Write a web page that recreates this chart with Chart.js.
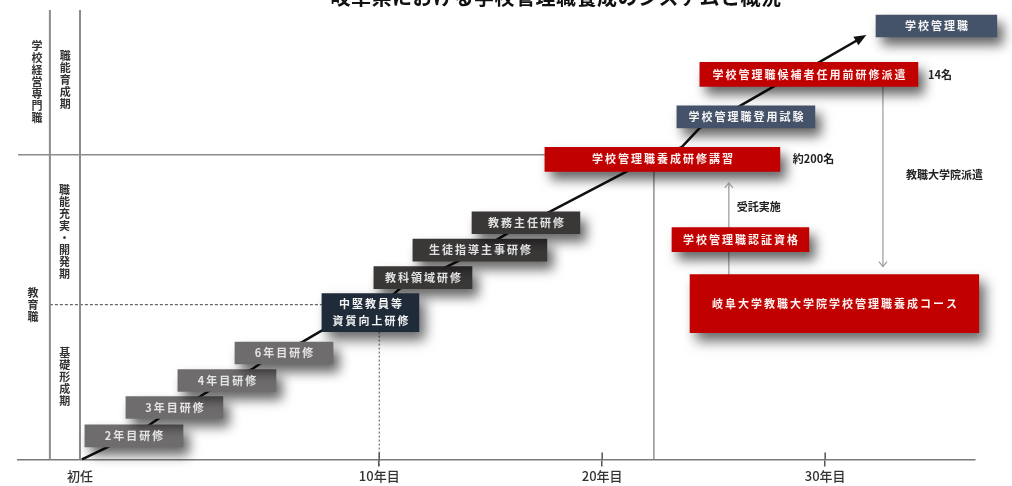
<!DOCTYPE html>
<html><head><meta charset="utf-8">
<script src="https://cdn.jsdelivr.net/npm/chart.js@4"></script>
<style>html,body{margin:0;padding:0;background:#fff}#wrap{width:1012px;height:486px;position:relative}</style>
</head><body><div id="wrap"><canvas id="c"></canvas></div>
<script>
// ---------- data ----------
const titleText = '岐阜県における学校管理職養成のシステムと概況';
const xTickValues = [-3.42, 10, 20, 30];
const xTickLabels = ['初任', '10年目', '20年目', '30年目'];

const basicLabels = ['2年目研修', '3年目研修', '4年目研修', '6年目研修'];
const basicStart = [-3.20, -1.36, 0.97, 3.53];
const basicEnd = [1.20, 2.99, 5.37, 7.93];
const basicLevel = [2.35, 5.2, 7.9, 10.65];

const midLabels = ['中堅教員等\n資質向上研修'];
const midStart = [7.43];
const midEnd = [11.78];
const midLevel = [14.7];

const roleLabels = ['教科領域研修', '生徒指導主事研修', '教務主任研修'];
const roleStart = [9.76, 11.51, 14.16];
const roleEnd = [14.16, 17.52, 19.00];
const roleLevel = [18.2, 20.95, 23.7];

const redLabels = ['学校管理職養成研修講習', '学校管理職候補者任用前研修派遣', '学校管理職認証資格'];
const redStart = [17.43, 24.38, 23.13];
const redEnd = [27.97, 34.16, 29.27];
const redLevel = [30.05, 38.55, 22.0];

const navyLabels = ['学校管理職登用試験', '学校管理職'];
const navyStart = [23.35, 32.28];
const navyEnd = [29.54, 37.70];
const navyLevel = [34.3, 43.4];

const courseLabels = ['岐阜大学教職大学院学校管理職養成コース'];
const courseStart = [23.94];
const courseEnd = [36.89];
const courseLevel = [15.6];

const pathX = [-3.33, -2.21, -0.41, 0.17, 1.96, 2.32, 4.34, 4.74, 6.58, 7.34, 10.62, 10.93, 13.04, 13.49, 15.28, 15.73, 17.66, 21.15, 23.58, 24.38, 26.18, 27.66, 29.76, 31.69];
const pathY = [0, 1.2, 3.3, 4.2, 6.3, 6.8, 9.1, 9.7, 11.8, 12.8, 16.5, 17.1, 19.3, 19.8, 22.0, 22.6, 24.8, 28.9, 31.3, 33.2, 35.4, 37.3, 39.8, 42.3];

const frameX = [-4.77, -3.42];
const frameTop = 45;
const periodLineY = 30.5;
const periodLineX = [-6.2, 17.43];
const tierLineY = 15.5;
const tierLineX = [-4.77, 7.43];
const tenYearX = 10;
const tenYearTop = 12.8;
const examLineX = 22.32;
const examLineTop = 28.9;
const upArrowX = 25.68;
const upArrowY = [18.5, 27.7];
const downArrowX = 32.59;
const downArrowY = [37.3, 19.3];

const phaseTexts = ['学校経営専門職', '教育職'];
const phaseX = [-5.35, -5.53];
const phaseY = [37.8, 15.5];
const stageTexts = ['職能育成期', '職能充実・開発期', '基礎形成期'];
const stageX = [-4.08, -4.12, -4.1];
const stageY = [38.0, 22.8, 8.3];

const noteTexts = ['約200名', '14名', '受託実施', '教職大学院派遣'];
const noteX = [28.55, 34.61, 26.04, 33.62];
const noteY = [30.1, 38.5, 25.3, 28.5];

// ---------- helpers ----------
const FONT = '"Noto Sans CJK JP", "Noto Sans", sans-serif';
const boxes = (s, e, l) => s.map((v, i) => ({ x: [v, e[i]], y: l[i] }));
const barSet = (labels, s, e, l, color, textColor, thick) => ({
  type: 'bar', indexAxis: 'y', grouped: false, data: boxes(s, e, l),
  boxLabels: labels, textColor: textColor, backgroundColor: color,
  borderWidth: 0, barThickness: thick, clip: false, order: 0
});
const lineSet = (pts, color, width, dash, extra) => Object.assign({
  type: 'line', data: pts, borderColor: color, borderWidth: width, borderDash: dash || [],
  pointRadius: 0, tension: 0, clip: false, order: 10, fill: false
}, extra || {});

const datasets = [
  lineSet(pathX.map((x, i) => ({ x: x, y: pathY[i] })), '#111', 2.5, null, { arrow: 'solid', order: 5 }),
  lineSet([{ x: frameX[0], y: 0 }, { x: frameX[0], y: frameTop }], '#8c8c8c', 2),
  lineSet([{ x: frameX[1], y: 0 }, { x: frameX[1], y: frameTop }], '#8c8c8c', 2),
  lineSet([{ x: periodLineX[0], y: periodLineY }, { x: periodLineX[1], y: periodLineY }], '#8c8c8c', 1.5),
  lineSet([{ x: tierLineX[0], y: tierLineY }, { x: tierLineX[1], y: tierLineY }], '#666', 1.2, [3, 2]),
  lineSet([{ x: tenYearX, y: tenYearTop }, { x: tenYearX, y: -0.8 }], '#555', 1, [2, 2]),
  lineSet([{ x: examLineX, y: examLineTop }, { x: examLineX, y: 0 }], '#777', 1.2),
  lineSet([{ x: upArrowX, y: upArrowY[0] }, { x: upArrowX, y: upArrowY[1] }], '#9a9a9a', 1.2, null, { arrow: 'open' }),
  lineSet([{ x: downArrowX, y: downArrowY[0] }, { x: downArrowX, y: downArrowY[1] }], '#9a9a9a', 1.2, null, { arrow: 'open' }),
  barSet(basicLabels, basicStart, basicEnd, basicLevel, '#6f6c6d', '#e4e4e4', 22),
  barSet(midLabels, midStart, midEnd, midLevel, '#1f2b39', '#f2f2f2', 38),
  barSet(roleLabels, roleStart, roleEnd, roleLevel, '#3a3737', '#e2e2e2', 22),
  barSet(redLabels, redStart, redEnd, redLevel, '#c10000', '#fff0f0', 24),
  barSet(navyLabels, navyStart, navyEnd, navyLevel, '#45536a', '#f4f4f4', 22),
  barSet(courseLabels, courseStart, courseEnd, courseLevel, '#c10000', '#fff0f0', 58)
];

// ---------- plugins ----------
const shadowPlugin = {
  id: 'boxShadow',
  beforeDatasetDraw(chart, args) {
    const ds = chart.data.datasets[args.index];
    if (ds.type !== 'bar') return;
    const ctx = chart.ctx;
    ctx.save();
    ctx.shadowColor = 'rgba(0,0,0,0.6)';
    ctx.shadowBlur = 12;
    ctx.shadowOffsetX = 6;
    ctx.shadowOffsetY = 8;
  },
  afterDatasetDraw(chart, args) {
    const ds = chart.data.datasets[args.index];
    if (ds.type !== 'bar') return;
    chart.ctx.restore();
  }
};

const decorPlugin = {
  id: 'decor',
  afterDatasetsDraw(chart) {
    const ctx = chart.ctx;
    const xs = chart.scales.x, ys = chart.scales.y;
    chart.data.datasets.forEach((ds, i) => {
      const meta = chart.getDatasetMeta(i);
      if (ds.type === 'bar' && ds.boxLabels) {
        meta.data.forEach((el, j) => {
          const p = el.getProps(['x', 'y', 'base'], true);
          const cx = (p.x + p.base) / 2;
          const lines = ds.boxLabels[j].split('\n');
          ctx.save();
          ctx.font = 'bold 11px ' + FONT;
          ctx.fillStyle = ds.textColor;
          ctx.textAlign = 'center';
          ctx.textBaseline = 'middle';
          ctx.letterSpacing = '2px';
          lines.forEach((t, k) => ctx.fillText(t, cx + 1, p.y + (k - (lines.length - 1) / 2) * 17));
          ctx.restore();
        });
      }
      if (ds.arrow) {
        const pts = meta.data;
        const a = pts[pts.length - 2], b = pts[pts.length - 1];
        const ang = Math.atan2(b.y - a.y, b.x - a.x);
        ctx.save();
        ctx.translate(b.x, b.y);
        ctx.rotate(ang);
        if (ds.arrow === 'solid') {
          ctx.fillStyle = ds.borderColor;
          ctx.beginPath();
          ctx.moveTo(4, 0); ctx.lineTo(-8, -5); ctx.lineTo(-8, 5); ctx.closePath();
          ctx.fill();
        } else {
          ctx.strokeStyle = ds.borderColor;
          ctx.lineWidth = 1.2;
          ctx.beginPath();
          ctx.moveTo(-5, -4); ctx.lineTo(0, 0); ctx.lineTo(-5, 4);
          ctx.stroke();
        }
        ctx.restore();
      }
    });
    ctx.save();
    ctx.strokeStyle = '#555';
    ctx.lineWidth = 1.5;
    xTickValues.forEach(v => {
      if (v < 0) return;
      const px = xs.getPixelForValue(v);
      ctx.beginPath();
      ctx.moveTo(px, xs.top - 7);
      ctx.lineTo(px, xs.top);
      ctx.stroke();
    });
    ctx.restore();
    ctx.save();
    ctx.font = 'bold 11px ' + FONT;
    ctx.fillStyle = '#333';
    ctx.textAlign = 'center';
    ctx.textBaseline = 'middle';
    const vtext = (txt, x, y) => {
      const chars = Array.from(txt);
      const step = 12;
      const px = xs.getPixelForValue(x), py = ys.getPixelForValue(y);
      chars.forEach((c, k) => ctx.fillText(c, px, py + (k - (chars.length - 1) / 2) * step));
    };
    phaseTexts.forEach((t, i) => vtext(t, phaseX[i], phaseY[i]));
    stageTexts.forEach((t, i) => vtext(t, stageX[i], stageY[i]));
    ctx.textAlign = 'left';
    ctx.fillStyle = '#222';
    noteTexts.forEach((t, i) => ctx.fillText(t, xs.getPixelForValue(noteX[i]), ys.getPixelForValue(noteY[i])));
    ctx.restore();
  },
  afterDraw(chart) {
    const ctx = chart.ctx;
    ctx.save();
    ctx.font = 'bold 20px ' + FONT;
    ctx.fillStyle = '#111';
    ctx.textAlign = 'center';
    ctx.textBaseline = 'middle';
    ctx.letterSpacing = '0.5px';
    ctx.fillText(titleText, 556, -3);
    ctx.restore();
  }
};

new Chart(document.getElementById('c'), {
  type: 'line',
  data: { datasets: datasets },
  options: {
    responsive: true,
    maintainAspectRatio: false,
    animation: false,
    events: [],
    layout: { padding: { left: 18, right: 37, top: 10, bottom: 0 } },
    plugins: { legend: { display: false }, tooltip: { enabled: false }, title: { display: false } },
    scales: {
      x: {
        type: 'linear', min: -6.2, max: 36.72, offset: false,
        afterBuildTicks: s => { s.ticks = xTickValues.map(v => ({ value: v })); },
        ticks: {
          autoSkip: false, maxRotation: 0, padding: 2, color: '#333',
          font: { family: FONT, size: 13, weight: '500' },
          callback: (v, i) => xTickLabels[i]
        },
        grid: {
          drawOnChartArea: false, drawTicks: true, tickLength: 7, lineWidth: 1.5,
          color: c => (c.tick && c.tick.value > 0) ? '#555' : 'rgba(0,0,0,0)'
        },
        border: { display: true, color: '#7a7a7a', width: 1.5 }
      },
      y: {
        type: 'linear', min: 0, max: 45, offset: false, display: false,
        grid: { offset: false }
      }
    }
  },
  plugins: [shadowPlugin, decorPlugin]
});
</script>
</body></html>
